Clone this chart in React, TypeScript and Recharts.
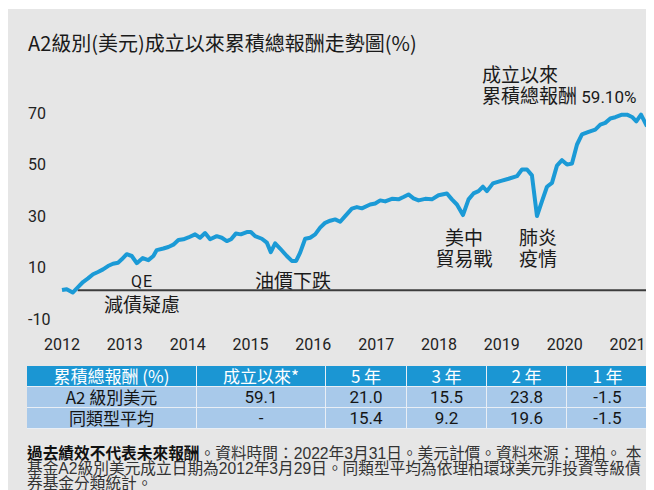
import React from "react";
import { LineChart, Line, XAxis, YAxis, ReferenceLine } from "recharts";

// positions on the chart's year scale (label 2012 = 2012.0) and cumulative return (%)
const YEAR_POS = [
  2012.0, 2012.075, 2012.17, 2012.255, 2012.334, 2012.414, 2012.494, 2012.573,
  2012.653, 2012.732, 2012.812, 2012.892, 2012.951, 2013.03, 2013.11, 2013.19,
  2013.285, 2013.374, 2013.454, 2013.508, 2013.613, 2013.693, 2013.772, 2013.852,
  2013.932, 2014.011, 2014.118, 2014.197, 2014.277, 2014.357, 2014.463, 2014.543,
  2014.623, 2014.691, 2014.766, 2014.846, 2014.941, 2015.005, 2015.073, 2015.18,
  2015.26, 2015.323, 2015.392, 2015.471, 2015.578, 2015.658, 2015.726, 2015.79,
  2015.87, 2015.949, 2016.029, 2016.108, 2016.188, 2016.268, 2016.347, 2016.427,
  2016.506, 2016.613, 2016.693, 2016.772, 2016.904, 2016.984, 2017.064, 2017.143,
  2017.25, 2017.355, 2017.435, 2017.514, 2017.594, 2017.674, 2017.78, 2017.887,
  2017.992, 2018.126, 2018.205, 2018.285, 2018.381, 2018.47, 2018.549, 2018.629,
  2018.699, 2018.763, 2018.858, 2018.975, 2019.107, 2019.24, 2019.32, 2019.4,
  2019.479, 2019.559, 2019.639, 2019.718, 2019.798, 2019.877, 2019.957, 2020.037,
  2020.116, 2020.196, 2020.275, 2020.381, 2020.487, 2020.567, 2020.646, 2020.726,
  2020.806, 2020.912, 2020.992, 2021.072, 2021.14, 2021.215, 2021.31,
];
const RETURN_PCT = [
  0.1, 0.4, -0.9, 1.2, 3.2, 4.6, 6.2, 7.1,
  8.1, 9.4, 10.3, 10.7, 12.0, 14.0, 13.3, 10.5,
  12.5, 11.7, 13.3, 15.6, 16.2, 16.8, 17.7, 19.5,
  19.8, 20.5, 21.7, 20.4, 22.2, 19.8, 21.0, 20.4,
  19.1, 19.8, 22.0, 21.7, 22.6, 22.6, 21.0, 20.0,
  18.5, 14.8, 18.2, 16.2, 13.3, 11.4, 11.4, 14.6,
  20.0, 20.4, 21.7, 24.3, 26.2, 27.0, 27.5, 26.6,
  28.8, 31.7, 32.3, 31.8, 33.3, 33.7, 34.9, 34.5,
  35.5, 35.3, 36.2, 37.2, 35.7, 34.9, 35.5, 35.3,
  36.9, 37.6, 35.3, 33.3, 29.2, 35.3, 37.6, 38.5,
  40.2, 38.5, 41.5, 42.4, 43.3, 44.3, 46.9, 46.9,
  44.6, 28.8, 34.6, 40.2, 41.7, 48.4, 50.5, 48.8,
  49.2, 56.6, 60.5, 61.5, 62.4, 64.3, 65.0, 66.7,
  67.2, 68.2, 68.2, 67.3, 65.6, 68.2, 63.7,
];
const YEAR_TICKS = [2012, 2013, 2014, 2015, 2016, 2017, 2018, 2019, 2020, 2021];
const VALUE_TICKS = [70, 50, 30, 10, -10];

const TABLE_HEAD = ["累積總報酬 (%)", "成立以來*", "5 年", "3 年", "2 年", "1 年"];
const FUND_ROW = ["A2 級別美元", "59.1", "21.0", "15.5", "23.8", "-1.5"];
const PEER_ROW = ["同類型平均", "-", "15.4", "9.2", "19.6", "-1.5"];

const chartData = YEAR_POS.map((t, i) => ({ t, v: RETURN_PCT[i] }));

const CJK = "'Noto Sans CJK TC', sans-serif";
const NUM = "Roboto, 'Noto Sans CJK TC', sans-serif";
const PLOT_BOTTOM = 308;
const COL_W = [170, 129, 81, 80, 80, 81];

const YearTick = (props: any) => (
  <text
    x={props.x}
    y={PLOT_BOTTOM + 34}
    textAnchor="middle"
    fontFamily={NUM}
    fontSize={16}
    fill="#222"
  >
    {props.payload.value}
  </text>
);

const ValueTick = (props: any) => (
  <text x={20} y={props.y + 8.5} textAnchor="start" fontFamily={NUM} fontSize={16} fill="#222">
    {props.payload.value}
  </text>
);

const note = (
  left: number,
  top: number,
  lines: React.ReactNode[],
  align: "left" | "center" = "left",
  width = 120,
) => (
  <div
    style={{
      position: "absolute",
      left: align === "center" ? left - width / 2 : left,
      top,
      width: align === "center" ? width : undefined,
      textAlign: align,
      fontFamily: CJK,
      fontSize: 19,
      lineHeight: "21px",
      color: "#1a1a1a",
      whiteSpace: "nowrap",
    }}
  >
    {lines.map((l, i) => (
      <div key={i}>{l}</div>
    ))}
  </div>
);

const TableRow = ({ cells, head }: { cells: string[]; head?: boolean }) => (
  <div style={{ display: "flex" }}>
    {cells.map((c, i) => (
      <div
        key={i}
        style={{
          width: COL_W[i],
          height: 21,
          boxSizing: "border-box",
          borderRight: i < cells.length - 1 ? "1.5px solid #e8eef5" : "none",
          borderBottom: "1px solid #e8eef5",
          background: head ? "#1b96d3" : "#a8c9ea",
          color: head ? "#fff" : "#151515",
          textAlign: "center",
          fontFamily: i === 0 || head ? CJK : NUM,
          fontSize: 17,
          lineHeight: "20px",
        }}
      >
        {c}
      </div>
    ))}
  </div>
);

export default function App() {
  return (
    <div
      style={{
        position: "relative",
        width: 646,
        height: 481,
        marginTop: 1,
        background: "#e6e6e6",
        overflow: "hidden",
      }}
    >
      <div
        style={{
          position: "absolute",
          left: 20,
          top: 23,
          fontFamily: CJK,
          fontSize: 20,
          lineHeight: "22px",
          color: "#1a1a1a",
          whiteSpace: "nowrap",
        }}
      >
        A2級別(美元)成立以來累積總報酬走勢圖(%)
      </div>

      <div style={{ position: "absolute", left: 0, top: -1 }}>
        <LineChart
          width={646}
          height={350}
          data={chartData}
          margin={{ top: 102, right: 7, bottom: 12, left: 0 }}
        >
          <XAxis
            type="number"
            dataKey="t"
            domain={[2012, 2021.31]}
            ticks={YEAR_TICKS}
            interval={0}
            height={30}
            axisLine={false}
            tickLine={false}
            tick={<YearTick />}
          />
          <YAxis
            type="number"
            domain={[-10, 70]}
            ticks={VALUE_TICKS}
            interval={0}
            width={54}
            axisLine={false}
            tickLine={false}
            tick={<ValueTick />}
          />
          <ReferenceLine
            segment={[
              { x: 2012.25, y: 0 },
              { x: 2021.31, y: 0 },
            ]}
            stroke="#3c3c3c"
            strokeWidth={2}
          />
          <Line
            type="linear"
            dataKey="v"
            stroke="#1b9ad6"
            strokeWidth={4}
            strokeLinejoin="round"
            dot={false}
            isAnimationActive={false}
          />
        </LineChart>
      </div>

      {note(474, 54, [
        "成立以來",
        <span>
          累積總報酬{" "}
          <span style={{ fontFamily: NUM, fontSize: 17 }}>59.10%</span>
        </span>,
      ])}
      <div
        style={{
          position: "absolute",
          left: 94,
          top: 263,
          width: 80,
          textAlign: "center",
          fontFamily: NUM,
          fontSize: 16,
          letterSpacing: 1,
          color: "#1a1a1a",
        }}
      >
        QE
      </div>
      {note(134, 284, ["減債疑慮"], "center")}
      {note(247, 260, ["油價下跌"])}
      {note(456, 217, ["美中", "貿易戰"], "center")}
      {note(530, 217, ["肺炎", "疫情"], "center")}

      <div style={{ position: "absolute", left: 19, top: 357 }}>
        <TableRow cells={TABLE_HEAD} head />
        <TableRow cells={FUND_ROW} />
        <TableRow cells={PEER_ROW} />
      </div>

      <div
        style={{
          position: "absolute",
          left: 19,
          top: 437,
          fontFamily: "'Liberation Sans', 'Noto Sans CJK TC', sans-serif",
          fontSize: 15.7,
          lineHeight: "15px",
          color: "#333",
          whiteSpace: "nowrap",
        }}
      >
        <div>
          <b style={{ color: "#111" }}>過去績效不代表未來報酬</b>。資料時間：2022年3月31日。美元計價。資料來源：理柏。 本
        </div>
        <div>基金A2級別美元成立日期為2012年3月29日。同類型平均為依理柏環球美元非投資等級債</div>
        <div>券基金分類統計。</div>
      </div>
    </div>
  );
}
